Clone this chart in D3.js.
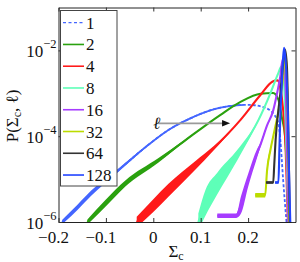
<!DOCTYPE html>
<html><head><meta charset="utf-8">
<script src="https://cdn.jsdelivr.net/npm/d3@7"></script>
<style>
html,body{margin:0;padding:0;background:#fff;}
svg text{font-family:"Liberation Serif","Times New Roman","DejaVu Serif",serif;fill:#111;}
</style></head>
<body><svg id="c" width="300" height="262" font-family="Liberation Serif, Times New Roman, DejaVu Serif, serif"></svg>
<script>
// ---- data: [sigma_c, P, noise half-width in decades] ----
const ells = ["1","2","4","8","16","32","64","128"];
const colors = ["#4466ff","#2aa10f","#ff1a1a","#5effb8","#a63cff","#bcdc00","#333333","#2244ff"];
const s1 = [[-0.192,1.0e-6,0.05],[-0.16,2.2e-6,0.06],[-0.131,4.7e-6,0.06],[-0.074,1.6e-5,0.04],[-0.017,5.5e-5,0.02],[0.032,1.4e-4,0],[0.078,2.6e-4,0],[0.12,4.0e-4,0],[0.16,5.0e-4,0],[0.20,5.4e-4,0],[0.236,4.6e-4,0],[0.262,2.4e-4,0],[0.268,8.1e-5,0],[0.274,9.3e-6,0],[0.281,1.0e-6,0]];
const s2 = [[-0.139,1.0e-6,0.06],[-0.10,2.8e-6,0.08],[-0.059,7.9e-6,0.07],[0.011,2.75e-5,0.05],[0.068,8.1e-5,0.02],[0.141,3.1e-4,0],[0.184,6.3e-4,0],[0.226,9.8e-4,0],[0.253,1.02e-3,0],[0.264,7.1e-4,0],[0.271,2.8e-4,0],[0.278,1.0e-4,0],[0.282,1.5e-5,0],[0.286,1.0e-6,0]];
const s4 = [[-0.035,1.0e-6,0.12],[0.0,2.4e-6,0.15],[0.032,5.5e-6,0.15],[0.089,2.1e-5,0.1],[0.127,5.2e-5,0.05],[0.184,2.4e-4,0],[0.226,9.1e-4,0],[0.251,1.86e-3,0],[0.262,2.0e-3,0],[0.268,1.35e-3,0],[0.274,4.0e-4,0],[0.279,6.0e-5,0],[0.284,1.0e-6,0]];
const s8 = [[0.095,1.0e-6,0.2],[0.11,2.8e-6,0.3],[0.135,7.9e-6,0.25],[0.177,3.6e-5,0.12],[0.222,2.4e-4,0.02],[0.247,1.0e-3,0],[0.264,3.0e-3,0],[0.270,4.2e-3,0],[0.275,2.4e-3,0],[0.280,1.0e-4,0],[0.285,1.0e-6,0]];
const s16 = [[0.135,1.4e-6,0.05],[0.175,1.4e-6,0.05],[0.185,2.5e-6,0.2],[0.20,9.3e-6,0.15],[0.219,4.0e-5,0.1],[0.226,6.3e-5,0.05],[0.24,1.78e-4,0.02],[0.253,4.0e-4,0],[0.262,1.12e-3,0],[0.268,2.5e-3,0],[0.273,6.3e-3,0],[0.277,4.0e-3,0],[0.281,2.5e-4,0],[0.285,1.0e-6,0]];
const s32 = [[0.215,4.2e-6,0.05],[0.236,4.2e-6,0.05],[0.24,1.6e-5,0.1],[0.247,4.7e-5,0.05],[0.255,1.26e-4,0.03],[0.266,5.0e-4,0],[0.274,2.5e-3,0],[0.278,8.9e-3,0],[0.281,4.0e-3,0],[0.284,1.6e-4,0],[0.287,1.0e-6,0]];
const s64 = [[0.238,8.3e-6,0.03],[0.253,8.3e-6,0.03],[0.255,2.0e-5,0.1],[0.258,8.1e-5,0.05],[0.268,1.0e-3,0],[0.275,6.3e-3,0],[0.278,1.05e-2,0],[0.282,4.0e-3,0],[0.285,1.26e-4,0],[0.288,1.0e-6,0]];
const s128 = [[0.257,8.3e-6,0.03],[0.264,8.3e-6,0.03],[0.266,5.0e-5,0.1],[0.268,3.0e-4,0.03],[0.271,1.5e-3,0],[0.274,7.0e-3,0],[0.276,1.15e-2,0],[0.279,6.0e-3,0],[0.282,1.5e-3,0],[0.284,3.0e-4,0],[0.286,2.0e-5,0],[0.289,1.0e-6,0]];
const seriesList = [s1,s2,s4,s8,s16,s32,s64,s128];
const xTicks = [-0.2,-0.1,0,0.1,0.2];
const xTickLabels = ["\u22120.2","\u22120.1","0","0.1","0.2"];
const yTicks = [1e-6,1e-4,1e-2];
const yTickExp = ["\u22126","\u22124","\u22122"];
const arrowFrom = [0.0106, 2.0e-4];
const arrowTo = [0.162, 2.0e-4];
const dashFrom = 0.19; // ℓ=1 dashes become visible where the curve is smooth

// ---- layout ----
const FONT = "Liberation Serif, Times New Roman, DejaVu Serif, serif";
const svg = d3.select("#c");
const L = 58.5, R = 295.5, T = 7.5, B = 222;
const x = d3.scaleLinear().domain([-0.2,0.3]).range([L,R]);
const y = d3.scaleLog().domain([1e-6,1e-1]).range([B,T]);

svg.append("defs").append("clipPath").attr("id","clip")
  .append("rect").attr("x",L).attr("y",T).attr("width",R-L).attr("height",B-T);

const g = svg.append("g").attr("clip-path","url(#clip)");
const line = d3.line().x(d=>x(d[0])).y(d=>y(d[1])).curve(d3.curveMonotoneX);
const area = d3.area().x(d=>x(d[0]))
  .y0(d=>y(Math.max(1e-7, d[1]*Math.pow(10,-d[2]))))
  .y1(d=>y(d[1]*Math.pow(10,d[2]))).curve(d3.curveMonotoneX);

seriesList.forEach((s,i)=>{
  g.append("path").attr("d",area(s)).attr("fill",colors[i]).attr("stroke","none");
  if(i===0){
    // solid-looking noisy part, dashed smooth part
    const full = g.append("path").attr("d",line(s)).attr("fill","none")
      .attr("stroke",colors[i]).attr("stroke-width",1.8).attr("stroke-dasharray","3,2");
    const gs = g.append("g");
    gs.append("clipPath").attr("id","clipSolid").append("rect")
      .attr("x",L).attr("y",T).attr("width",x(dashFrom)-L).attr("height",B-T);
    gs.append("path").attr("d",line(s)).attr("fill","none").attr("clip-path","url(#clipSolid)")
      .attr("stroke",colors[i]).attr("stroke-width",1.8);
  } else {
    g.append("path").attr("d",line(s)).attr("fill","none")
      .attr("stroke",colors[i]).attr("stroke-width",2.1);
  }
});

// annotation arrow
svg.append("line").attr("x1",x(arrowFrom[0])).attr("y1",y(arrowFrom[1]))
  .attr("x2",x(arrowTo[0])-6).attr("y2",y(arrowTo[1]))
  .attr("stroke","#9a9a9a").attr("stroke-width",1.8);
const ax = x(arrowTo[0]), ay = y(arrowTo[1]);
svg.append("path").attr("d",`M${ax},${ay}L${ax-8},${ay-3.2}L${ax-8},${ay+3.2}Z`).attr("fill","#111");
svg.append("text").attr("x",x(arrowFrom[0])+2).attr("y",y(arrowFrom[1])+6)
  .attr("font-family",FONT).attr("text-anchor","end").attr("font-size",17).attr("font-style","italic").text("\u2113");

// axes frame and inward ticks
const axG = svg.append("g");
axG.append("g").attr("transform",`translate(0,${B})`)
  .call(d3.axisBottom(x).tickValues(xTicks).tickSizeInner(-4).tickSizeOuter(0).tickFormat(""));
axG.append("g").attr("transform",`translate(0,${T})`)
  .call(d3.axisTop(x).tickValues(xTicks).tickSizeInner(-4).tickSizeOuter(0).tickFormat(""));
axG.append("g").attr("transform",`translate(${L},0)`)
  .call(d3.axisLeft(y).tickValues(yTicks).tickSizeInner(-4).tickSizeOuter(0).tickFormat(""));
axG.append("g").attr("transform",`translate(${R},0)`)
  .call(d3.axisRight(y).tickValues(yTicks).tickSizeInner(-4).tickSizeOuter(0).tickFormat(""));
axG.selectAll("path.domain").attr("stroke","#222");
axG.selectAll(".tick line").attr("stroke","#333");

// x tick labels
xTicks.forEach((t,i)=>{
  svg.append("text").attr("x",x(t)+(t<0?-5:0)).attr("y",243).attr("font-family",FONT)
    .attr("text-anchor","middle").attr("font-size",17).text(xTickLabels[i]);
});
// y tick labels
yTicks.forEach((t,i)=>{
  const tx = svg.append("text").attr("x",L-2).attr("y",y(t)+7).attr("font-family",FONT)
    .attr("text-anchor","end").attr("font-size",17);
  tx.append("tspan").text("10");
  tx.append("tspan").attr("dy",-9).attr("font-size",12.5).text(yTickExp[i]);
});

// axis labels
const xl = svg.append("text").attr("x",176).attr("y",257).attr("font-family",FONT)
  .attr("text-anchor","middle").attr("font-size",17);
xl.append("tspan").text("\u03a3");
xl.append("tspan").attr("dy",3).attr("font-size",12).text("c");
const yl = svg.append("text").attr("transform","translate(18,116) rotate(-90)").attr("font-family",FONT)
  .attr("text-anchor","middle").attr("font-size",17);
yl.append("tspan").text("P(\u03a3");
yl.append("tspan").attr("dy",3).attr("font-size",12).text("c");
yl.append("tspan").attr("dy",-3).text(", \u2113)");

// legend
const lg = svg.append("g");
lg.append("rect").attr("x",60.5).attr("y",10.5).attr("width",56.5).attr("height",175.5)
  .attr("fill","#fff").attr("stroke","#444").attr("stroke-width",1);
ells.forEach((e,i)=>{
  const cy = 22.7 + i*21.76;
  const ln = lg.append("line").attr("x1",63).attr("x2",84).attr("y1",cy).attr("y2",cy)
    .attr("stroke",colors[i]).attr("stroke-width",i===0?1.3:1.6);
  if(i===0) ln.attr("stroke-dasharray","3,2.5");
  lg.append("text").attr("x",86).attr("y",cy+6).attr("font-family",FONT).attr("font-size",17).text(e);
});
</script></body></html>
